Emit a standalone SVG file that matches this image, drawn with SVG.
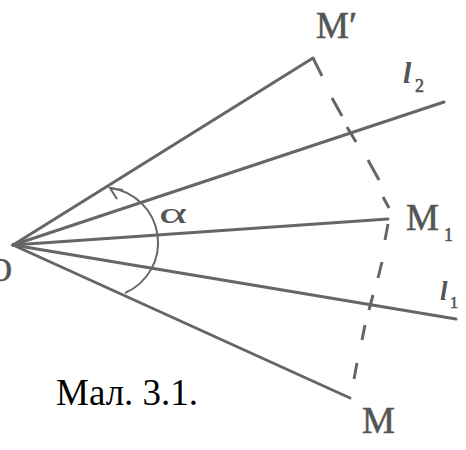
<svg xmlns="http://www.w3.org/2000/svg" width="466" height="450" viewBox="0 0 466 450">
<style>
.ln{stroke:#666;stroke-width:3;stroke-linecap:round;fill:none}
.dash{stroke:#666;stroke-width:3;stroke-linecap:butt;fill:none}
.arc{stroke:#666;stroke-width:2;fill:none}
.lbl{font-family:'Liberation Serif','DejaVu Serif',serif;fill:#555;stroke:#555;stroke-width:0.6}
.it{font-style:italic;font-weight:bold;stroke-width:0}
.cap{font-family:'Liberation Serif','Times New Roman',serif;fill:#000}
</style>
<rect width="466" height="450" fill="#fff"/>
<g id="connectors">
<line class="ln" x1="13" y1="245" x2="313" y2="58"/>
<line class="ln" x1="13" y1="245" x2="444" y2="102"/>
<line class="ln" x1="13" y1="245" x2="388" y2="219"/>
<line class="ln" x1="13" y1="245" x2="456" y2="319"/>
<line class="ln" x1="13" y1="245" x2="350" y2="398"/>
<g id="dashes">
<line class="dash" x1="313" y1="58" x2="322" y2="76"/>
<line class="dash" x1="332" y1="98" x2="342" y2="116"/>
<line class="dash" x1="347" y1="127" x2="356" y2="142"/>
<line class="dash" x1="368" y1="160" x2="379" y2="180"/>
<line class="dash" x1="383" y1="197" x2="389" y2="208"/>
<line class="dash" x1="388" y1="224" x2="385" y2="240"/>
<line class="dash" x1="382" y1="262" x2="378" y2="278"/>
<line class="dash" x1="373" y1="295" x2="369" y2="310"/>
<line class="dash" x1="365" y1="325" x2="362" y2="340"/>
<line class="dash" x1="357" y1="363" x2="354" y2="379"/>
</g>
<path class="arc" d="M125 293 A55 55 0 0 0 110 188"/>
<polyline class="arc" points="123,190 110,188 117,199"/>
</g>
<g id="O"><text class="lbl" x="12" y="281" font-size="34" text-anchor="end">O</text></g>
<g id="Mprime"><text class="lbl" x="316" y="38" font-size="37">M′</text></g>
<g id="l2"><text class="lbl it" x="403" y="83" font-size="30">l</text><text class="lbl" x="415" y="92" font-size="18">2</text></g>
<g id="M1"><text class="lbl" x="406" y="230" font-size="37">M</text><text class="lbl" x="444" y="241" font-size="18">1</text></g>
<g id="l1"><text class="lbl it" x="440" y="300" font-size="27">l</text><text class="lbl" x="450" y="308" font-size="16">1</text></g>
<g id="M"><text class="lbl" x="362" y="433" font-size="37">M</text></g>
<g id="alpha"><text class="lbl" x="159" y="223" font-size="30" textLength="28" lengthAdjust="spacingAndGlyphs" style="stroke-width:0">α</text></g>
<g id="caption"><text class="cap" x="56" y="405" font-size="37">Мал. 3.1.</text></g>
</svg>
